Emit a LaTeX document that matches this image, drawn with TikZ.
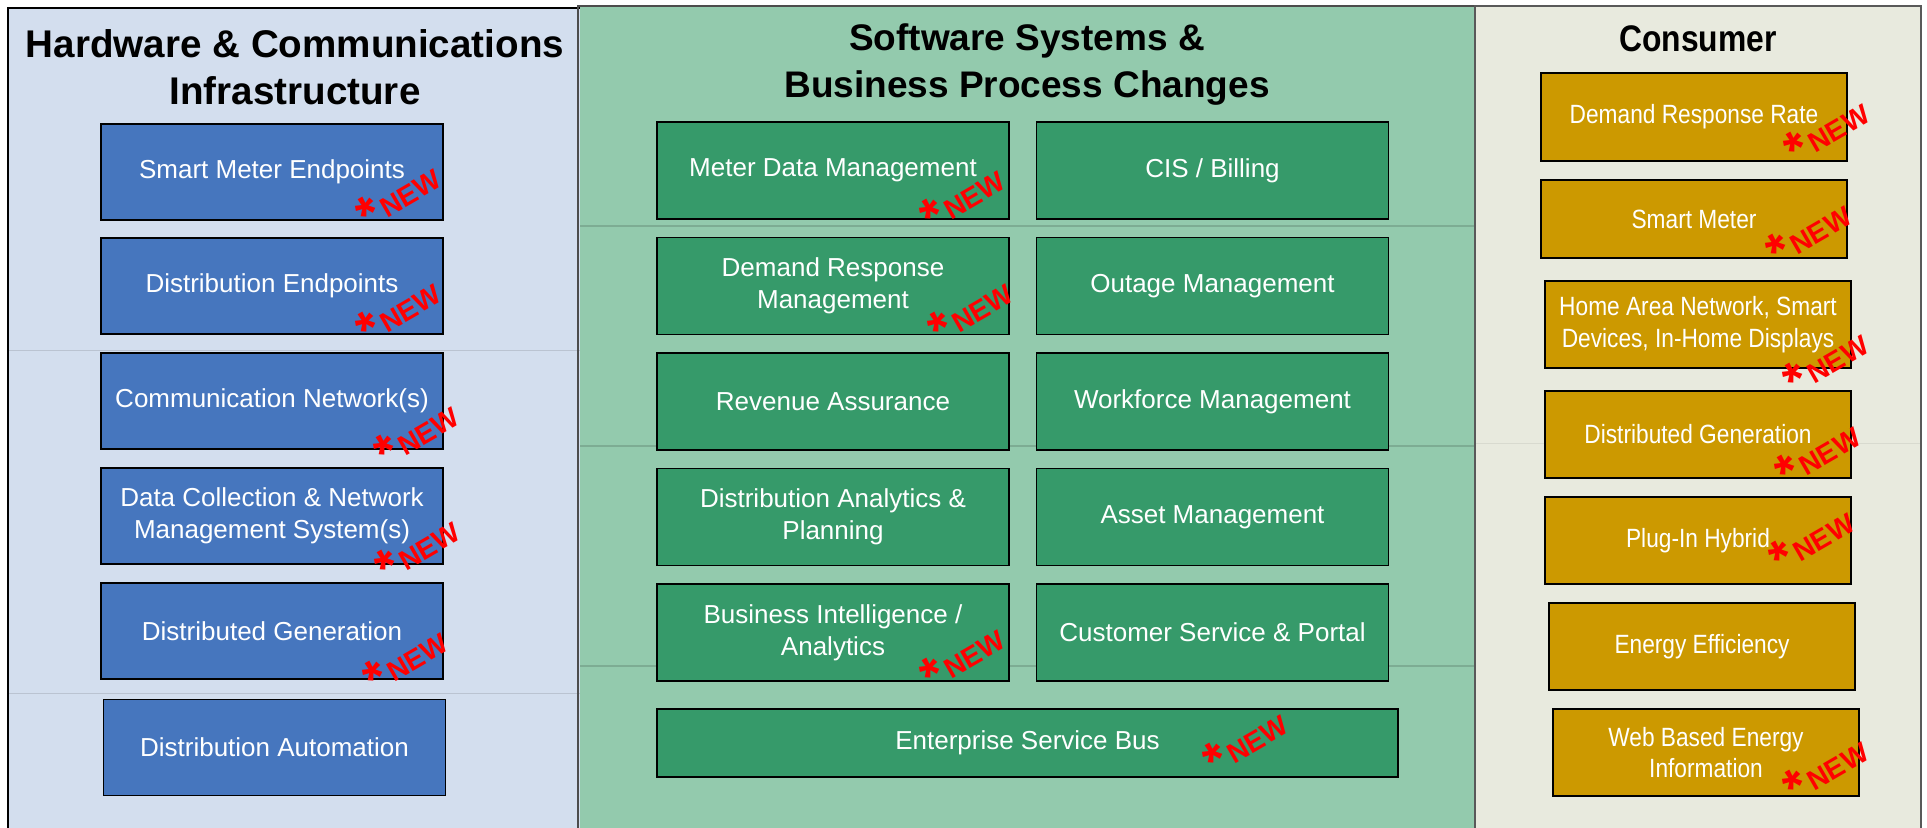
\documentclass[tikz,border=0pt]{standalone}
\usepackage{fontspec}
\setmainfont{Liberation Sans}
\newfontfamily\narrowsans[FakeStretch=0.86]{Liberation Sans}

\definecolor{hwfondo}{HTML}{D3DEEE}
\definecolor{hwcaja}{HTML}{4676BE}
\definecolor{swfondo}{HTML}{93CAAD}
\definecolor{swcaja}{HTML}{369A6A}
\definecolor{consfondo}{HTML}{E8EADE}
\definecolor{conscaja}{HTML}{CC9900}

\begin{document}
\begin{tikzpicture}[x=0.5pt, y=-0.5pt,
    caja/.style={draw=black, line width=0.9pt, text=white, align=center, inner sep=0pt,
      font=\fontsize{13}{15.85}\selectfont},
    cajahw/.style={caja, fill=hwcaja, minimum width=171pt, minimum height=48pt},
    cajasw/.style={caja, fill=swcaja, minimum width=176pt, minimum height=48.5pt},
    cajacons/.style={caja, fill=conscaja, minimum width=153pt, minimum height=43.5pt,
      font=\narrowsans\fontsize{13.2}{15.85}\selectfont},
    titulo/.style={align=center, font=\bfseries\fontsize{18.5}{23.5}\selectfont},
    nuevo/.style={text=red, font=\bfseries\fontsize{14}{14}\selectfont, rotate=30,
      anchor=base west, inner sep=0pt}]
  % Marca roja de sistema nuevo
  \def\marca{\raisebox{-2.6pt}{\fontsize{26}{26}\selectfont *}\kern1.4pt NEW}

  % Lienzo
  \fill[white] (0,0) rectangle (1927,827);
  \clip (0,0) rectangle (1927,827);

  % Fondo de los tres paneles
  \fill[hwfondo] (8,8) rectangle (580,840);
  \fill[swfondo] (580,6) rectangle (1475,840);
  \fill[consfondo] (1475,6) rectangle (1921,840);

  % Lineas tenues de fondo
  \draw[hwfondo!88!black, line width=0.5pt] (8,350) -- (580,350) (8,693) -- (580,693);
  \draw[swfondo!85!black, line width=0.6pt] (580,226) -- (1475,226)
    (580,446) -- (1475,446) (580,666) -- (1475,666);
  \draw[consfondo!93!black, line width=0.5pt] (1475,443) -- (1921,443);

  % Bordes de los paneles
  \draw[line width=1pt] (8,840) -- (8,8) -- (580,8);
  \draw[line width=1pt, gray!60!black] (578,840) -- (578,6) -- (1475,6);
  \draw[line width=0.8pt, gray!70!black] (1475,840) -- (1475,6) -- (1921,6) -- (1921,840);

  % Titulos
  \node[titulo, font=\bfseries\fontsize{19.3}{23.8}\selectfont] (tithw) at (295,67)
    {Hardware \& Communications\\Infrastructure};
  \node[titulo] (titsw) at (1027,65) {Software Systems \&\\Business Process Changes};
  \node[titulo, font=\narrowsans\bfseries\fontsize{18.5}{23.5}\selectfont, anchor=base]
    (titcons) at (1698,51) {Consumer};

  % Hardware y comunicaciones
  \node[cajahw] (sme) at (272,172) {Smart Meter Endpoints};
  \node[cajahw] (dep) at (272,286) {Distribution Endpoints};
  \node[cajahw] (cnet) at (272,401) {Communication Network(s)};
  \node[cajahw] (dcnm) at (272,516) {Data Collection \& Network\\Management System(s)};
  \node[cajahw] (dgen) at (272,631) {Distributed Generation};
  \node[cajahw] (dauto) at (274.5,747.5) {Distribution Automation};

  % Software y procesos
  \node[cajasw] (mdm) at (833,170.5) {Meter Data Management};
  \node[cajasw] (cis) at (1212.5,170.5) {CIS / Billing};
  \node[cajasw] (drm) at (833,286) {Demand Response\\Management};
  \node[cajasw] (oms) at (1212.5,286) {Outage Management};
  \node[cajasw] (rev) at (833,401.5) {Revenue Assurance};
  \node[cajasw] (wfm) at (1212.5,401.5) {Workforce Management};
  \node[cajasw] (dap) at (833,517) {Distribution Analytics \&\\Planning};
  \node[cajasw] (asset) at (1212.5,517) {Asset Management};
  \node[cajasw] (bi) at (833,632.5) {Business Intelligence /\\Analytics};
  \node[cajasw] (csp) at (1212.5,632.5) {Customer Service \& Portal};
  \node[cajasw, minimum width=370.5pt, minimum height=34pt] (esb) at (1027.5,743)
    {Enterprise Service Bus};

  % Consumidor
  \node[cajacons, minimum height=44pt] (drr) at (1694,117) {Demand Response Rate};
  \node[cajacons, minimum height=39pt] (smeter) at (1694,219) {Smart Meter};
  \node[cajacons] (han) at (1698,324.5) {Home Area Network, Smart\\Devices, In-Home Displays};
  \node[cajacons] (cdgen) at (1698,434.5) {Distributed Generation};
  \node[cajacons] (phev) at (1698,540.5) {Plug-In Hybrid};
  \node[cajacons] (eff) at (1702,646.5) {Energy Efficiency};
  \node[cajacons] (web) at (1706,752.5) {Web Based Energy\\Information};

  % Marcas "nuevo" (encima de las cajas)
  \node[nuevo] (nsme) at (367,230) {\marca};
  \node[nuevo] (ndep) at (367,345) {\marca};
  \node[nuevo] (ncnet) at (385,468) {\marca};
  \node[nuevo] (ndcnm) at (386,583) {\marca};
  \node[nuevo] (ndgen) at (374,694) {\marca};
  \node[nuevo] (nmdm) at (931,232) {\marca};
  \node[nuevo] (ndrm) at (939,345) {\marca};
  \node[nuevo] (nbi) at (931,691) {\marca};
  \node[nuevo] (nesb) at (1214,776) {\marca};
  \node[nuevo] (ndrr) at (1795,165) {\marca};
  \node[nuevo] (nsmeter) at (1777,267) {\marca};
  \node[nuevo] (nhan) at (1794,396) {\marca};
  \node[nuevo] (ncdgen) at (1786,488) {\marca};
  \node[nuevo] (nphev) at (1780,574) {\marca};
  \node[nuevo] (nweb) at (1794,803) {\marca};
\end{tikzpicture}
\end{document}
